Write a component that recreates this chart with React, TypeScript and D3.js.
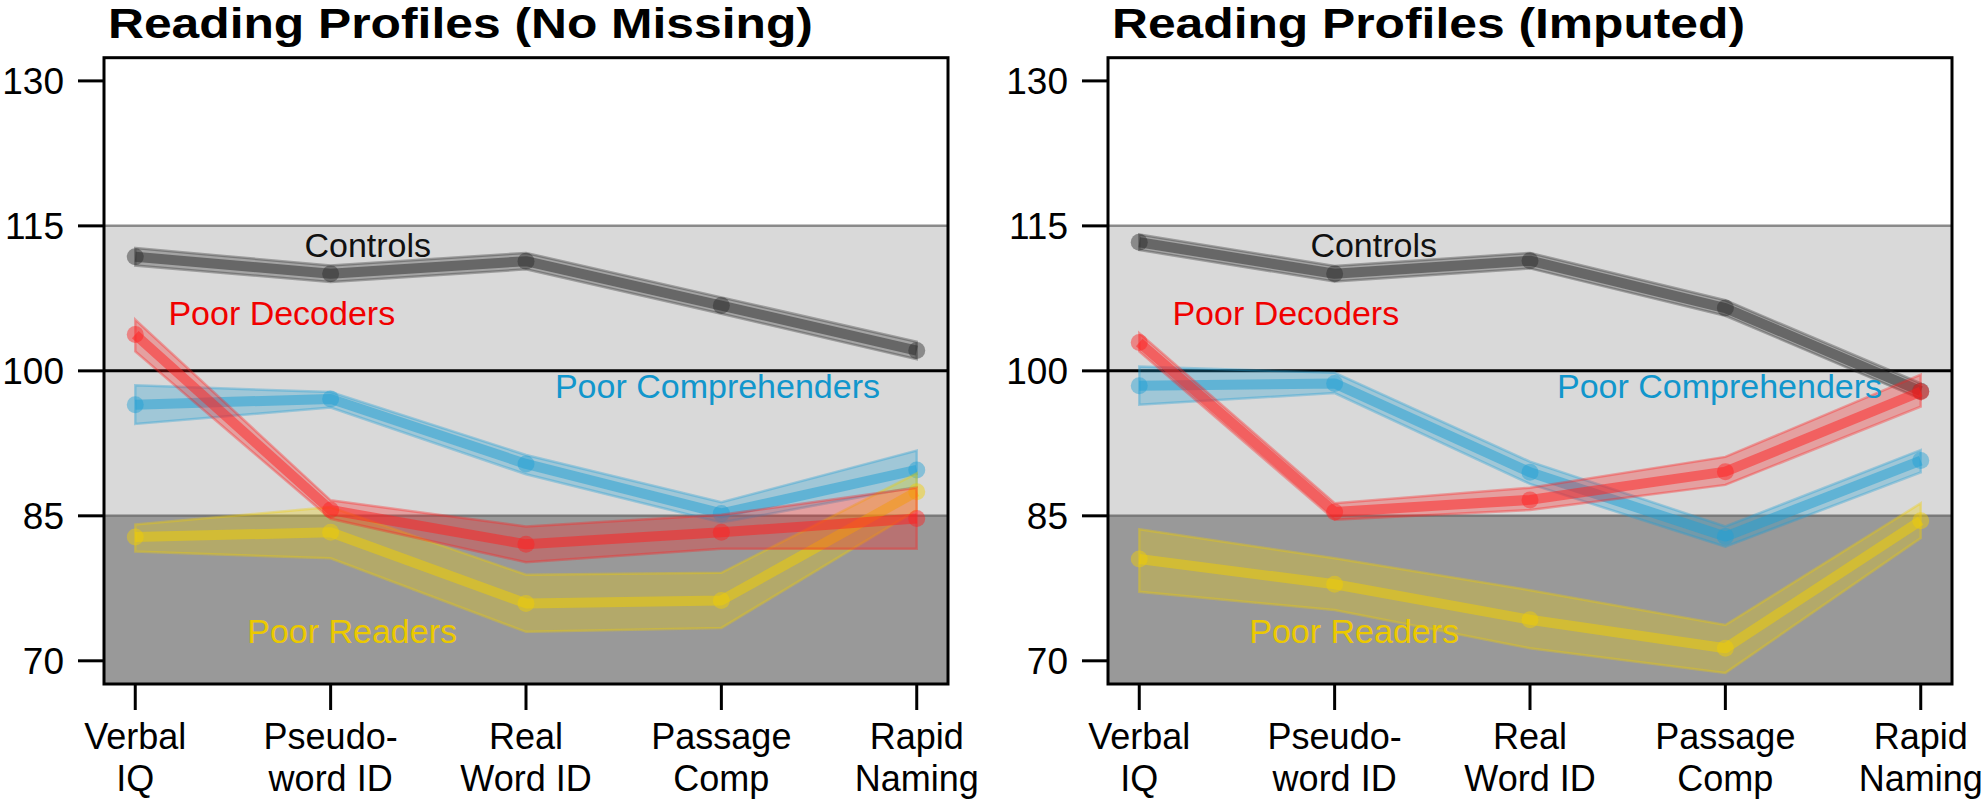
import { useEffect } from 'react'
import * as d3 from 'd3'

const W = 1983
const H = 804
const FONT = '"Liberation Sans", Arial, Helvetica, sans-serif'

const categories = [
  ['Verbal', 'IQ'],
  ['Pseudo-', 'word ID'],
  ['Real', 'Word ID'],
  ['Passage', 'Comp'],
  ['Rapid', 'Naming'],
]
const yTicks = [70, 85, 100, 115, 130]

// No Missing
const controlsNM = [111.8, 110.05, 111.35, 106.75, 102.1]
const controlsNMLo = [110.9, 109.2, 110.5, 105.9, 101.2]
const controlsNMHi = [112.7, 110.9, 112.2, 107.6, 103.0]
const decodersNM = [103.75, 85.6, 82.05, 83.3, 84.72]
const decodersNMLo = [102.0, 84.7, 80.2, 81.6, 81.6]
const decodersNMHi = [105.3, 86.6, 83.9, 85.1, 87.9]
const comprehendersNM = [96.5, 97.1, 90.37, 85.25, 89.75]
const comprehendersNMLo = [94.5, 96.2, 89.3, 84.3, 88.0]
const comprehendersNMHi = [98.5, 97.8, 91.3, 86.4, 91.75]
const readersNM = [82.8, 83.3, 75.94, 76.25, 87.5]
const readersNMLo = [81.3, 80.6, 73.0, 73.4, 85.6]
const readersNMHi = [84.1, 85.9, 78.9, 79.1, 89.4]

// Imputed
const controlsIM = [113.3, 110.05, 111.4, 106.5, 97.9]
const controlsIMLo = [112.5, 109.25, 110.6, 105.7, 97.1]
const controlsIMHi = [114.1, 110.85, 112.2, 107.3, 98.7]
const decodersIM = [102.93, 85.4, 86.65, 89.57, 97.85]
const decodersIMLo = [102.0, 84.6, 85.6, 88.2, 96.3]
const decodersIMHi = [103.9, 86.3, 87.9, 91.1, 99.6]
const comprehendersIM = [98.45, 98.7, 89.5, 82.85, 90.72]
const comprehendersIMLo = [96.5, 97.7, 88.3, 81.8, 89.5]
const comprehendersIMHi = [100.45, 99.8, 90.6, 83.9, 91.8]
const readersIM = [80.53, 77.92, 74.25, 71.3, 84.5]
const readersIMLo = [77.14, 75.25, 71.3, 68.75, 82.7]
const readersIMHi = [83.6, 80.6, 77.3, 73.7, 86.3]

const COLORS = {
  controls: '#2a2a2a',
  decoders: '#ff1f1f',
  comprehenders: '#1f9fd4',
  readers: '#f2cf00',
}
const TEXT_COLORS = {
  controls: '#111111',
  decoders: '#f00000',
  comprehenders: '#1196cc',
  readers: '#ecc900',
}

interface Series {
  key: keyof typeof COLORS
  mean: number[]
  lo: number[]
  hi: number[]
}

interface Label {
  key: keyof typeof COLORS
  text: string
  x: number // category units
  y: number // score units
}

interface PanelProps {
  left: number
  title: string
  series: Series[]
  labels: Label[]
}

const TOP = 57.7
const BOTTOM = 684
const PW = 844

function Panel({ left, title, series, labels }: PanelProps) {
  const x = d3.scaleLinear().domain([0.84, 5.16]).range([left, left + PW])
  const y = d3.scaleLinear().domain([67.6, 132.4]).range([BOTTOM, TOP])
  const idx = categories.map((_, i) => i + 1)

  const line = d3.line<number>().x((_, i) => x(i + 1)).y(d => y(d))
  const area = (s: Series) =>
    d3.area<number>()
      .x((_, i) => x(i + 1))
      .y0((_, i) => y(s.lo[i]))
      .y1((_, i) => y(s.hi[i]))(s.mean)

  const [x0, x1] = x.range()

  return (
    <g>
      {/* the title glyphs are wider than plain bold Arial in the original */}
      <text transform={`translate(${left + 4},38) scale(1.185,1)`}
        fontFamily={FONT} fontWeight="bold" fontSize={42} fill="#000">
        {title}
      </text>
      {/* bands */}
      <rect x={x0} y={y(115)} width={x1 - x0} height={y(85) - y(115)} fill="#d9d9d9" />
      <rect x={x0} y={y(85)} width={x1 - x0} height={BOTTOM - y(85)} fill="#999999" />
      <line x1={x0} x2={x1} y1={y(115)} y2={y(115)} stroke="#8a8a8a" strokeWidth={2.5} />
      <line x1={x0} x2={x1} y1={y(85)} y2={y(85)} stroke="#7a7a7a" strokeWidth={2.5} />
      <line x1={x0} x2={x1} y1={y(100)} y2={y(100)} stroke="#000" strokeWidth={3} />

      {series.map(s => (
        <g key={s.key}>
          <path d={area(s) ?? ''} fill={COLORS[s.key]} fillOpacity={0.3}
            stroke={COLORS[s.key]} strokeOpacity={0.35} strokeWidth={2.5} />
          <path d={line(s.mean) ?? ''} fill="none" stroke={COLORS[s.key]}
            strokeOpacity={0.5} strokeWidth={10} strokeLinejoin="round" />
          {s.mean.map((v, i) => (
            <circle key={i} cx={x(i + 1)} cy={y(v)} r={8.5}
              fill={COLORS[s.key]} fillOpacity={0.45} />
          ))}
        </g>
      ))}

      {labels.map(l => (
        <text key={l.key} x={x(l.x)} y={y(l.y)} textAnchor="middle"
          fontFamily={FONT} fontSize={34} fill={TEXT_COLORS[l.key]}>
          {l.text}
        </text>
      ))}

      <rect x={x0} y={TOP} width={x1 - x0} height={BOTTOM - TOP}
        fill="none" stroke="#000" strokeWidth={3} />

      {/* y axis */}
      {yTicks.map(t => (
        <g key={t}>
          <line x1={x0 - 26} x2={x0} y1={y(t)} y2={y(t)} stroke="#000" strokeWidth={3} />
          <text x={x0 - 40} y={y(t)} dy="0.36em" textAnchor="end"
            fontFamily={FONT} fontSize={37} fill="#000">{t}</text>
        </g>
      ))}

      {/* x axis */}
      {idx.map((c, i) => (
        <g key={c}>
          <line x1={x(c)} x2={x(c)} y1={BOTTOM} y2={BOTTOM + 26} stroke="#000" strokeWidth={3} />
          <text x={x(c)} y={749} textAnchor="middle" fontFamily={FONT} fontSize={36} fill="#000">
            {categories[i][0]}
          </text>
          <text x={x(c)} y={791} textAnchor="middle" fontFamily={FONT} fontSize={36} fill="#000">
            {categories[i][1]}
          </text>
        </g>
      ))}
    </g>
  )
}

const seriesNM: Series[] = [
  { key: 'controls', mean: controlsNM, lo: controlsNMLo, hi: controlsNMHi },
  { key: 'comprehenders', mean: comprehendersNM, lo: comprehendersNMLo, hi: comprehendersNMHi },
  { key: 'readers', mean: readersNM, lo: readersNMLo, hi: readersNMHi },
  { key: 'decoders', mean: decodersNM, lo: decodersNMLo, hi: decodersNMHi },
]
const seriesIM: Series[] = [
  { key: 'controls', mean: controlsIM, lo: controlsIMLo, hi: controlsIMHi },
  { key: 'comprehenders', mean: comprehendersIM, lo: comprehendersIMLo, hi: comprehendersIMHi },
  { key: 'readers', mean: readersIM, lo: readersIMLo, hi: readersIMHi },
  { key: 'decoders', mean: decodersIM, lo: decodersIMLo, hi: decodersIMHi },
]

const labelsNM: Label[] = [
  { key: 'controls', text: 'Controls', x: 2.19, y: objY(257) },
  { key: 'decoders', text: 'Poor Decoders', x: 1.75, y: objY(325) },
  { key: 'comprehenders', text: 'Poor Comprehenders', x: 3.98, y: objY(398) },
  { key: 'readers', text: 'Poor Readers', x: 2.11, y: objY(643) },
]
const labelsIM: Label[] = [
  { key: 'controls', text: 'Controls', x: 2.2, y: objY(257) },
  { key: 'decoders', text: 'Poor Decoders', x: 1.75, y: objY(325) },
  { key: 'comprehenders', text: 'Poor Comprehenders', x: 3.97, y: objY(398) },
  { key: 'readers', text: 'Poor Readers', x: 2.1, y: objY(643) },
]

// label baselines were read in pixels; convert to score units
function objY(py: number) {
  return 100 - (py - 371) / 9.655
}

export default function App() {
  useEffect(() => {
    document.body.style.margin = '0'
  }, [])
  return (
    <svg width={W} height={H} style={{ display: 'block', background: '#fff' }}>
      <Panel left={104} title="Reading Profiles (No Missing)" series={seriesNM} labels={labelsNM} />
      <Panel left={1108} title="Reading Profiles (Imputed)" series={seriesIM} labels={labelsIM} />
    </svg>
  )
}
